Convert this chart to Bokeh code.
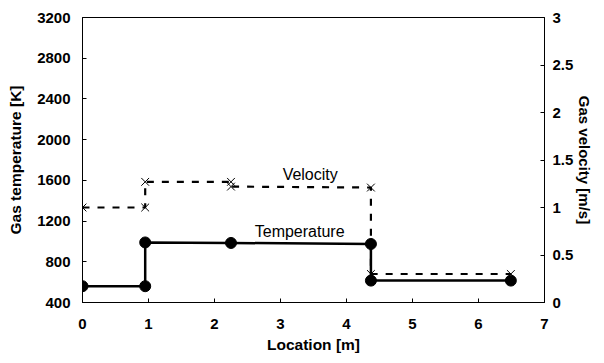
from bokeh.plotting import figure
from bokeh.models import Range1d, LinearAxis, FixedTicker, CustomJSTickFormatter
from bokeh.core.properties import value
from bokeh.embed import file_html
from bokeh.resources import INLINE

# Data
temp_x = [0, 0.95, 0.95, 2.25, 4.37, 4.37, 6.49]
temp_y = [560, 560, 990, 985, 975, 615, 615]
vel_x = [0, 0.95, 0.95, 2.25, 2.25, 4.37, 4.37, 6.49]
vel_y = [1.0, 1.0, 1.27, 1.27, 1.22, 1.21, 0.30, 0.30]
x_ticks = [0, 1, 2, 3, 4, 5, 6, 7]
temp_ticks = [400, 800, 1200, 1600, 2000, 2400, 2800, 3200]
vel_ticks = [0, 0.5, 1, 1.5, 2, 2.5, 3]
labels = ["Velocity", "Temperature"]
label_x = [3.45, 3.29]
label_vel_y = [1.35]
label_temp_y = [1095]

FONT = "Liberation Sans"

p = figure(width=596, height=355, output_backend="svg", toolbar_location=None,
           x_range=Range1d(0, 7), y_range=Range1d(400, 3200),
           min_border_left=82, min_border_right=50, min_border_top=17, min_border_bottom=52)
p.extra_y_ranges = {"v": Range1d(0, 3)}
p.xgrid.visible = False
p.ygrid.visible = False
p.outline_line_color = "black"
p.outline_line_width = 1
p.background_fill_color = "white"
p.border_fill_color = "white"

def style_axis(ax, standoff):
    ax.axis_line_color = "black"
    ax.axis_line_width = 1
    ax.major_tick_in = 4
    ax.major_tick_out = 0
    ax.minor_tick_in = 0
    ax.minor_tick_out = 0
    ax.major_tick_line_color = "black"
    ax.major_label_text_font = FONT
    ax.major_label_text_font_style = "bold"
    ax.major_label_text_font_size = "15px"
    ax.major_label_text_color = "black"
    ax.major_label_standoff = standoff
    ax.axis_label_text_font = FONT
    ax.axis_label_text_font_style = "bold"
    ax.axis_label_text_font_size = "15.5px"
    ax.axis_label_text_color = "black"

xa = p.xaxis[0]
xa.ticker = FixedTicker(ticks=x_ticks)
xa.axis_label = "Location [m]"
style_axis(xa, 16)
xa.axis_label_standoff = 4

ya = p.yaxis[0]
ya.ticker = FixedTicker(ticks=temp_ticks)
ya.axis_label = "Gas temperature [K]"
style_axis(ya, 12)
ya.axis_label_standoff = 10

ra = LinearAxis(y_range_name="v", ticker=FixedTicker(ticks=vel_ticks),
                formatter=CustomJSTickFormatter(code="return String(tick);"),
                axis_label="Gas velocity [m/s]")
style_axis(ra, 8)
ra.axis_label_standoff = 0
ra.axis_label_text_font_size = "15px"
p.add_layout(ra, "right")

# Velocity (dashed, x markers)
p.line(vel_x, vel_y, y_range_name="v", line_color="black", line_width=2.2, line_dash="7 8")
p.scatter(vel_x, vel_y, y_range_name="v", marker="x", size=11, line_color="black", line_width=1)

# Temperature (solid, filled circles)
p.line(temp_x, temp_y, line_color="black", line_width=2.5)
p.scatter(temp_x, temp_y, marker="circle", size=11, fill_color="black", line_color="black")

p.text(x=label_x[:1], y=label_vel_y, y_range_name="v", text=labels[:1],
       text_font=value(FONT), text_font_size="16px", text_align="center",
       text_baseline="middle", text_color="black")
p.text(x=label_x[1:], y=label_temp_y, text=labels[1:],
       text_font=value(FONT), text_font_size="16px", text_align="center",
       text_baseline="middle", text_color="black")

open("out.html", "w").write(file_html(p, INLINE))
